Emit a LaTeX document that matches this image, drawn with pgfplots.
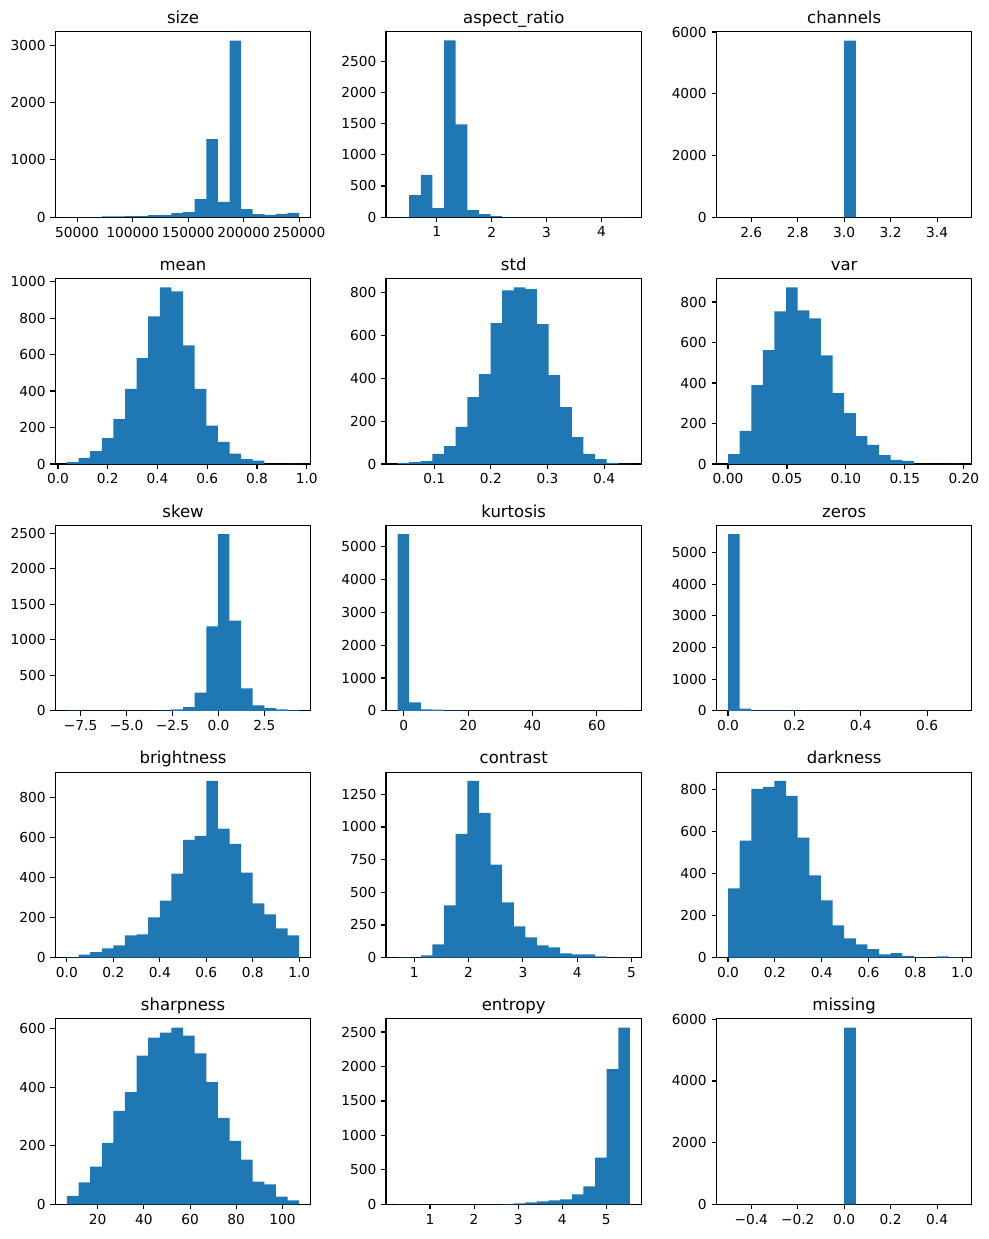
\documentclass[border=0pt]{standalone}
\usepackage{pgfplots}
\pgfplotsset{compat=1.18}
\usepackage{fontspec}
\setmainfont{DejaVu Sans}
\definecolor{histblue}{RGB}{31,119,180}

\pgfplotsset{
  hist/.style={
    scale only axis, width=185.82pt, height=134.91pt,
    anchor=north west,
    ymin=0,
    axis line style={line width=0.8pt},
    tick align=outside,
    tick pos=left,
    major tick length=3.5pt,
    every tick/.style={black, line width=0.8pt},
    tick label style={font=\fontsize{10}{12}\selectfont},
    /pgf/number format/assume math mode=true,
    /pgf/number format/1000 sep={},
    scaled ticks=false,
    title style={at={(0.5,1)}, anchor=base, inner sep=0pt,
      font=\fontsize{12}{14.4}\selectfont},
  },
  % histogram drawn as one filled step outline: each point is a bin's left edge
  % and its count, the last point closes the final bin
  histbar/.style={const plot mark left, fill=histblue, draw=none},
}

\begin{document}
\begin{tikzpicture}
\useasboundingbox (0,0) rectangle (719.27pt,-901.09pt);

% ---------------- row 1 ----------------
\begin{axis}[hist, at={(40.22pt,-23.05pt)}, title={size},
  xmin=30388, xmax=260574, ymax=3234,
  xtick={50000,100000,150000,200000,250000},
  xticklabels={50000,100000,150000,200000,250000},
  ytick={0,1000,2000,3000}]
\addplot[histbar] coordinates {(40851,1) (51314,0) (61777,3) (72240,15) (82703,16) (93166,18) (103629,20) (114092,35) (124555,36) (135018,70) (145481,90) (155944,315) (166407,1360) (176870,268) (187333,3080) (197796,142) (208259,55) (218722,40) (229185,60) (239648,76) (250111,76)} \closedcycle;
\end{axis}

\begin{axis}[hist, at={(280.73pt,-23.05pt)}, title={aspect\_ratio},
  xmin=0.0787, xmax=4.726, ymax=2971,
  xtick={1,2,3,4}, xticklabels={1,2,3,4},
  ytick={0,500,1000,1500,2000,2500}]
\addplot[histbar] coordinates {(0.2900,1) (0.5013,352) (0.7125,677) (0.9238,144) (1.1350,2830) (1.3463,1487) (1.5575,112) (1.7688,48) (1.9800,16) (2.1913,3) (2.4025,1) (2.6138,0) (2.8250,0) (3.0363,0) (3.2475,0) (3.4588,0) (3.6700,0) (3.8813,0) (4.0925,0) (4.3038,1) (4.5150,1)} \closedcycle;
\end{axis}

\begin{axis}[hist, at={(521.02pt,-23.05pt)}, title={channels},
  xmin=2.45, xmax=3.55, ymax=6011,
  xtick={2.6,2.8,3.0,3.2,3.4}, xticklabels={2.6,2.8,3.0,3.2,3.4},
  ytick={0,2000,4000,6000}]
\addplot[histbar] coordinates {(3.00,5725) (3.05,5725)} \closedcycle;
\end{axis}

% ---------------- row 2 ----------------
\begin{axis}[hist, at={(40.22pt,-202.55pt)}, title={mean},
  xmin=-0.0109, xmax=1.0163, ymax=1017,
  xtick={0,0.2,0.4,0.6,0.8,1.0}, xticklabels={0.0,0.2,0.4,0.6,0.8,1.0},
  ytick={0,200,400,600,800,1000}]
\addplot[histbar] coordinates {(0.0358,11) (0.0825,33) (0.1292,71) (0.1759,142) (0.2226,246) (0.2693,412) (0.3159,580) (0.3626,810) (0.4093,969) (0.4560,947) (0.5027,651) (0.5494,412) (0.5961,210) (0.6428,122) (0.6895,57) (0.7362,27) (0.7828,18) (0.8295,0) (0.8762,0) (0.9229,1) (0.9696,1)} \closedcycle;
\end{axis}

\begin{axis}[hist, at={(280.73pt,-202.55pt)}, title={std},
  xmin=0.0148, xmax=0.466, ymax=867,
  xtick={0.1,0.2,0.3,0.4}, xticklabels={0.1,0.2,0.3,0.4},
  ytick={0,200,400,600,800}]
\addplot[histbar] coordinates {(0.0353,5) (0.0558,9) (0.0763,14) (0.0968,47) (0.1173,84) (0.1379,173) (0.1584,313) (0.1789,420) (0.1994,658) (0.2199,812) (0.2404,826) (0.2609,817) (0.2814,654) (0.3019,416) (0.3224,266) (0.3430,126) (0.3635,47) (0.3840,23) (0.4045,5) (0.4250,1) (0.4455,1)} \closedcycle;
\end{axis}

\begin{axis}[hist, at={(521.02pt,-202.55pt)}, title={var},
  xmin=-0.00985, xmax=0.20685, ymax=916,
  xtick={0,0.05,0.10,0.15,0.20}, xticklabels={0.00,0.05,0.10,0.15,0.20},
  ytick={0,200,400,600,800}]
\addplot[histbar] coordinates {(0.0000,49) (0.00985,163) (0.0197,389) (0.02955,562) (0.0394,754) (0.04925,872) (0.0591,759) (0.06895,719) (0.0788,537) (0.08865,350) (0.0985,251) (0.10835,138) (0.1182,94) (0.12805,44) (0.1379,20) (0.14775,15) (0.1576,0) (0.16745,0) (0.1773,0) (0.18715,1) (0.1970,1)} \closedcycle;
\end{axis}

% ---------------- row 3 ----------------
\begin{axis}[hist, at={(40.22pt,-382.04pt)}, title={skew},
  xmin=-8.880, xmax=5.026, ymax=2615,
  xtick={-7.5,-5,-2.5,0,2.5}, xticklabels={−7.5,−5.0,−2.5,0.0,2.5},
  ytick={0,500,1000,1500,2000,2500}]
\addplot[histbar] coordinates {(-8.248,1) (-7.616,0) (-6.984,0) (-6.352,0) (-5.720,0) (-5.087,0) (-4.455,0) (-3.823,0) (-3.191,2) (-2.559,19) (-1.927,52) (-1.295,258) (-0.663,1189) (-0.031,2490) (0.601,1273) (1.233,315) (1.865,75) (2.497,38) (3.130,19) (3.762,6) (4.394,6)} \closedcycle;
\end{axis}

\begin{axis}[hist, at={(280.73pt,-382.04pt)}, title={kurtosis},
  xmin=-5.498, xmax=73.878, ymax=5660,
  xtick={0,20,40,60}, xticklabels={0,20,40,60},
  ytick={0,1000,2000,3000,4000,5000}]
\addplot[histbar] coordinates {(-1.890,5390) (1.718,256) (5.326,41) (8.934,35) (12.542,4) (16.150,2) (19.758,1) (23.366,0) (26.974,1) (30.582,0) (34.190,0) (37.798,0) (41.406,0) (45.014,0) (48.622,0) (52.230,0) (55.838,0) (59.446,0) (63.054,0) (66.662,1) (70.270,1)} \closedcycle;
\end{axis}

\begin{axis}[hist, at={(521.02pt,-382.04pt)}, title={zeros},
  xmin=-0.035, xmax=0.735, ymax=5856,
  xtick={0,0.2,0.4,0.6}, xticklabels={0.0,0.2,0.4,0.6},
  ytick={0,1000,2000,3000,4000,5000}]
\addplot[histbar] coordinates {(0.000,5577) (0.035,73) (0.070,8) (0.105,4) (0.140,3) (0.175,2) (0.210,1) (0.245,1) (0.280,0) (0.315,1) (0.350,0) (0.385,0) (0.420,0) (0.455,0) (0.490,0) (0.525,0) (0.560,0) (0.595,0) (0.630,0) (0.665,1) (0.700,1)} \closedcycle;
\end{axis}

% ---------------- row 4 ----------------
\begin{axis}[hist, at={(40.22pt,-561.53pt)}, title={brightness},
  xmin=-0.05, xmax=1.05, ymax=927,
  xtick={0,0.2,0.4,0.6,0.8,1.0}, xticklabels={0.0,0.2,0.4,0.6,0.8,1.0},
  ytick={0,200,400,600,800}]
\addplot[histbar] coordinates {(0.00,1) (0.05,15) (0.10,27) (0.15,46) (0.20,61) (0.25,111) (0.30,116) (0.35,201) (0.40,285) (0.45,420) (0.50,589) (0.55,609) (0.60,883) (0.65,644) (0.70,569) (0.75,425) (0.80,271) (0.85,216) (0.90,146) (0.95,111) (1.00,111)} \closedcycle;
\end{axis}

\begin{axis}[hist, at={(280.73pt,-561.53pt)}, title={contrast},
  xmin=0.479, xmax=5.184, ymax=1420,
  xtick={1,2,3,4,5}, xticklabels={1,2,3,4,5},
  ytick={0,250,500,750,1000,1250}]
\addplot[histbar] coordinates {(0.6930,1) (0.9069,0) (1.1207,18) (1.3346,102) (1.5484,399) (1.7623,948) (1.9761,1352) (2.1900,1108) (2.4038,711) (2.6177,422) (2.8315,239) (3.0454,155) (3.2592,94) (3.4731,79) (3.6869,33) (3.9008,25) (4.1146,25) (4.3285,10) (4.5423,0) (4.7562,1) (4.9700,1)} \closedcycle;
\end{axis}

\begin{axis}[hist, at={(521.02pt,-561.53pt)}, title={darkness},
  xmin=-0.0496, xmax=1.0416, ymax=883,
  xtick={0,0.2,0.4,0.6,0.8,1.0}, xticklabels={0.0,0.2,0.4,0.6,0.8,1.0},
  ytick={0,200,400,600,800}]
\addplot[histbar] coordinates {(0.0000,329) (0.0496,557) (0.0992,803) (0.1488,813) (0.1984,841) (0.2480,770) (0.2976,571) (0.3472,391) (0.3968,272) (0.4464,153) (0.4960,92) (0.5456,63) (0.5952,40) (0.6448,16) (0.6944,21) (0.7440,8) (0.7936,1) (0.8432,0) (0.8928,6) (0.9424,1) (0.9920,1)} \closedcycle;
\end{axis}

% ---------------- row 5 ----------------
\begin{axis}[hist, at={(40.22pt,-741.02pt)}, title={sharpness},
  xmin=1.64, xmax=112.3, ymax=633,
  xtick={20,40,60,80,100}, xticklabels={20,40,60,80,100},
  ytick={0,200,400,600}]
\addplot[histbar] coordinates {(6.67,29) (11.70,75) (16.73,129) (21.76,210) (26.79,319) (31.82,383) (36.85,508) (41.88,569) (46.91,586) (51.94,603) (56.97,576) (62.00,515) (67.03,417) (72.06,295) (77.09,217) (82.12,153) (87.15,78) (92.18,68) (97.21,27) (102.24,14) (107.27,14)} \closedcycle;
\end{axis}

\begin{axis}[hist, at={(280.73pt,-741.02pt)}, title={entropy},
  xmin=0.0005, xmax=5.7996, ymax=2690,
  xtick={1,2,3,4,5}, xticklabels={1,2,3,4,5},
  ytick={0,500,1000,1500,2000,2500}]
\addplot[histbar] coordinates {(0.2640,1) (0.5276,0) (0.7912,1) (1.0548,0) (1.3184,1) (1.5820,0) (1.8456,1) (2.1092,1) (2.3728,2) (2.6364,5) (2.9000,15) (3.1636,29) (3.4272,43) (3.6908,58) (3.9544,72) (4.2180,144) (4.4816,260) (4.7452,678) (5.0088,1962) (5.2724,2562) (5.5360,2562)} \closedcycle;
\end{axis}

\begin{axis}[hist, at={(521.02pt,-741.02pt)}, title={missing},
  xmin=-0.55, xmax=0.55, ymax=6011,
  xtick={-0.4,-0.2,0,0.2,0.4}, xticklabels={−0.4,−0.2,0.0,0.2,0.4},
  ytick={0,2000,4000,6000}]
\addplot[histbar] coordinates {(0.00,5725) (0.05,5725)} \closedcycle;
\end{axis}
\end{tikzpicture}
\end{document}
